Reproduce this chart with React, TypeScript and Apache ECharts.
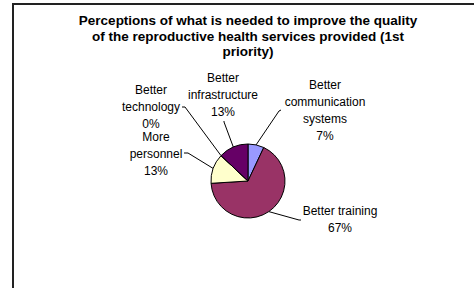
import React, { useEffect, useRef } from "react";
import * as echarts from "echarts";

// ---- data ----
const titleLines = [
  "Perceptions of what is needed to improve the quality",
  "of the reproductive health services provided (1st",
  "priority)",
];
const categories = [
  "Better\ncommunication\nsystems",
  "Better training",
  "More\npersonnel",
  "Better\ntechnology",
  "Better\ninfrastructure",
];
const percentValues = [7, 67, 13, 0, 13];
const sliceColors = ["#9999FF", "#993366", "#FFFFCC", "#CCFFFF", "#660066"];

// ---- layout (label block centres and leader-line ends near labels) ----
const labelCentres: number[][] = [
  [325, 110.5],
  [340, 219.5],
  [156, 154],
  [151, 107],
  [223, 94.5],
];
const leaderEnds: number[][][] = [
  [[279, 111], [281, 110]],
  [[299, 220], [301, 220]],
  [[188, 153], [184, 153]],
  [[185, 107], [182, 107]],
  [[224, 122], [224, 121]],
];

export default function App() {
  const ref = useRef<HTMLDivElement>(null);
  useEffect(() => {
    document.body.style.margin = "0";
    const chart = echarts.init(ref.current!, undefined, { renderer: "svg" });
    chart.setOption({
      animation: false,
      backgroundColor: "#ffffff",
      graphic: [
        {
          type: "rect",
          shape: { x: 13, y: 4, width: 700, height: 500 },
          style: { fill: "none", stroke: "#222222", lineWidth: 2 },
          silent: true,
        },
        {
          type: "text",
          x: 248,
          y: 13,
          style: {
            text: titleLines.join("\n"),
            fontFamily: "Liberation Sans",
            fontWeight: "bold",
            fontSize: 13.5,
            lineHeight: 15.5,
            fill: "#000",
            align: "center",
            verticalAlign: "top",
          },
        },
      ],
      series: [
        {
          type: "pie",
          center: [248, 181],
          radius: 37,
          startAngle: 90,
          clockwise: true,
          percentPrecision: 0,
          avoidLabelOverlap: false,
          data: categories.map((name, i) => ({
            name,
            value: percentValues[i],
            itemStyle: { color: sliceColors[i] },
          })),
          itemStyle: { borderColor: "#000", borderWidth: 1 },
          label: {
            show: true,
            formatter: "{b}\n{d}%",
            fontFamily: "Liberation Sans",
            fontSize: 12,
            lineHeight: 17,
            color: "#000",
            align: "center",
          },
          labelLine: {
            show: true,
            length: 5,
            length2: 5,
            lineStyle: { color: "#000", width: 1 },
          },
          labelLayout: (params: any) => {
            const i = params.dataIndex;
            const c = labelCentres[i];
            const start = params.labelLinePoints
              ? params.labelLinePoints[0]
              : leaderEnds[i][0];
            return {
              x: c[0],
              y: c[1],
              align: "center",
              verticalAlign: "middle",
              labelLinePoints: [start, leaderEnds[i][0], leaderEnds[i][1]],
            };
          },
        },
      ],
    });
    return () => chart.dispose();
  }, []);
  return <div ref={ref} style={{ width: 474, height: 288 }} />;
}
